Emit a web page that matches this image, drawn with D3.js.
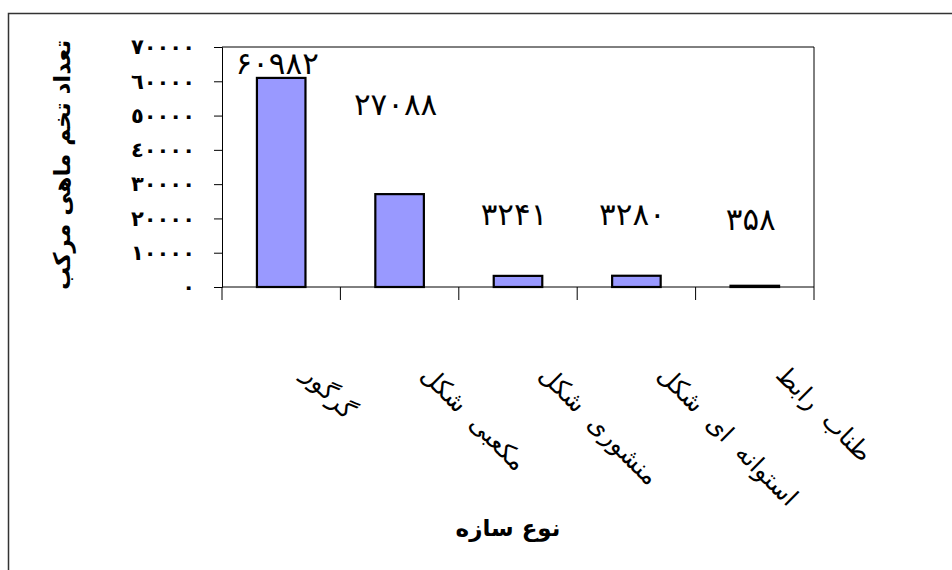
<!DOCTYPE html>
<html>
<head>
<meta charset="utf-8">
<script src="https://cdn.jsdelivr.net/npm/d3@7/dist/d3.min.js"></script>
<style>
  html, body { margin: 0; padding: 0; background: #fff; }
  svg { display: block; }
</style>
</head>
<body>
<svg id="chart" width="952" height="570"></svg>
<script>
// Cuttlefish egg counts by structure type
const categories = ["گرگور", "مکعبی شکل", "منشوری شکل", "استوانه ای شکل", "طناب رابط"];
const eggCounts = [60982, 27088, 3241, 3280, 358];
const valueLabels = ["۶۰۹۸۲", "۲۷۰۸۸", "۳۲۴۱", "۳۲۸۰", "۳۵۸"];
const tickValues = [0, 10000, 20000, 30000, 40000, 50000, 60000, 70000];
const tickLabels = ["٠", "١٠٠٠٠", "٢٠٠٠٠", "٣٠٠٠٠", "٤٠٠٠٠", "٥٠٠٠٠", "٦٠٠٠٠", "٧٠٠٠٠"];
const yTitle = "تعداد تخم ماهی مرکب";
const xTitle = "نوع سازه";

// vertical placement of each value label (px above the plot baseline)
const labelHeights = [213, 172, 62, 62, 57];

const svg = d3.select("#chart");
const plot = { left: 222, right: 814, top: 47, bottom: 287 };
const arabicFont = "'DejaVu Sans', 'Noto Sans', sans-serif";

// outer chart frame
svg.append("rect")
  .attr("x", 8.5).attr("y", 13.5)
  .attr("width", 1000).attr("height", 1000)
  .attr("fill", "none").attr("stroke", "#333").attr("stroke-width", 1.5);

const x = d3.scaleBand()
  .domain(categories)
  .range([plot.left, plot.right])
  .paddingInner(0.59)
  .paddingOuter(0.295);

const y = d3.scaleLinear()
  .domain([0, 70000])
  .range([plot.bottom, plot.top]);

// plot area outline (top and right)
svg.append("path")
  .attr("d", `M${plot.left},${plot.top}H${plot.right}V${plot.bottom}`)
  .attr("fill", "none").attr("stroke", "#000").attr("stroke-width", 1);

// bars
svg.append("g").selectAll("rect")
  .data(eggCounts)
  .join("rect")
  .attr("x", (d, i) => x(categories[i]))
  .attr("y", d => y(d))
  .attr("width", x.bandwidth())
  .attr("height", d => y(0) - y(d))
  .attr("fill", "#9999ff")
  .attr("stroke", "#000")
  .attr("stroke-width", 2.2);

// y axis
const yAxis = d3.axisLeft(y)
  .tickValues(tickValues)
  .tickSize(8)
  .tickPadding(19)
  .tickFormat((d, i) => tickLabels[i]);
const gy = svg.append("g")
  .attr("transform", `translate(${plot.left},0)`)
  .call(yAxis);
gy.select(".domain").attr("stroke", "#000");
gy.selectAll(".tick line").attr("stroke", "#000");
gy.selectAll(".tick text")
  .attr("font-family", arabicFont)
  .attr("font-size", 21)
  .attr("font-weight", "bold")
  .attr("fill", "#000");

// x axis: baseline and category boundary ticks
const gx = svg.append("g")
  .attr("transform", `translate(0,${plot.bottom})`);
gx.append("line")
  .attr("x1", plot.left).attr("x2", plot.right)
  .attr("stroke", "#000");
const step = x.step();
const bounds = d3.range(categories.length + 1).map(i => plot.left + i * step);
gx.selectAll("line.tick")
  .data(bounds)
  .join("line")
  .attr("class", "tick")
  .attr("x1", d => d).attr("x2", d => d)
  .attr("y1", 0).attr("y2", 13)
  .attr("stroke", "#000");

// value labels
svg.append("g").selectAll("text")
  .data(eggCounts)
  .join("text")
  .attr("x", (d, i) => x(categories[i]) + x.bandwidth() / 2 - 4)
  .attr("y", (d, i) => plot.bottom - labelHeights[i])
  .attr("text-anchor", "middle")
  .attr("font-family", "'DejaVu Sans', sans-serif")
  .attr("font-size", 31)
  .attr("fill", "#000")
  .text((d, i) => valueLabels[i]);

// rotated category labels
svg.append("g").selectAll("text")
  .data(categories)
  .join("text")
  .attr("transform", d => `translate(${x(d) + x.bandwidth() / 2 + 26},370) rotate(45)`)
  .attr("text-anchor", "start")
  .attr("dy", "0.35em")
  .attr("font-family", arabicFont)
  .attr("font-size", 25)
  .attr("word-spacing", 7)
  .attr("fill", "#000")
  .text(d => d);

// axis titles
svg.append("text")
  .attr("transform", "translate(62,165) rotate(-90)")
  .attr("text-anchor", "middle")
  .attr("dy", "0.35em")
  .attr("font-family", arabicFont)
  .attr("font-size", 23)
  .attr("font-weight", "bold")
  .attr("fill", "#000")
  .text(yTitle);

svg.append("text")
  .attr("x", 508).attr("y", 528)
  .attr("text-anchor", "middle")
  .attr("dy", "0.35em")
  .attr("font-family", arabicFont)
  .attr("font-size", 23)
  .attr("font-weight", "bold")
  .attr("fill", "#000")
  .text(xTitle);
</script>
</body>
</html>
